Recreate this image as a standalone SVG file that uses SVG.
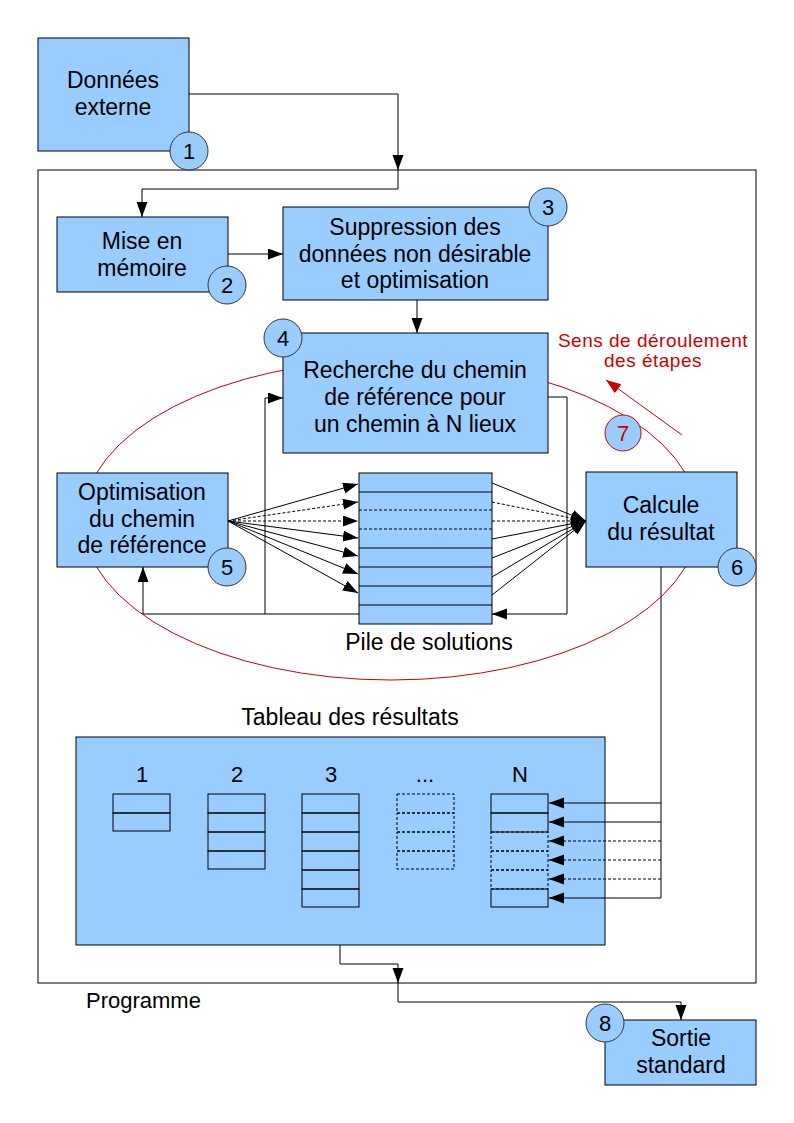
<svg xmlns="http://www.w3.org/2000/svg" width="794" height="1123" viewBox="0 0 794 1123">
<style>
  text { font-family: "Liberation Sans", Arial, sans-serif; fill: #000; }
  .lbl { font-size: 23px; text-anchor: middle; }
  .num { font-size: 22px; text-anchor: middle; }
  .box { fill: #99ccff; stroke: #000; stroke-width: 1; }
  .badge { fill: #99ccff; stroke: #333; stroke-width: 1; }
  .cell { fill: none; stroke: #000; stroke-width: 1; }
  .dcell { fill: none; stroke: #000; stroke-width: 1; stroke-dasharray: 3,2; }
  .ln { fill: none; stroke: #000; stroke-width: 1; }
  .dash { fill: none; stroke: #000; stroke-width: 1; stroke-dasharray: 3,2; }
  .arr { marker-end: url(#ah); }
</style>
<defs>
  <marker id="ah" markerUnits="userSpaceOnUse" markerWidth="16" markerHeight="12" refX="15" refY="5.5" orient="auto">
    <path d="M0,0 L15,5.5 L0,11 z" fill="#000"/>
  </marker>
  <marker id="ahr" markerUnits="userSpaceOnUse" markerWidth="16" markerHeight="12" refX="15" refY="5.5" orient="auto">
    <path d="M0,0 L15,5.5 L0,11 z" fill="#cc0000"/>
  </marker>
</defs>
<rect x="0" y="0" width="794" height="1123" fill="#fff"/>

<g id="programme">
  <rect x="38" y="170" width="718" height="813" fill="none" stroke="#000" stroke-width="1"/>
  <text x="86" y="1008" style="font-size:22px">Programme</text>
</g>

<g id="cycle">
  <ellipse cx="391" cy="520" rx="308" ry="160" fill="none" stroke="#cc0000" stroke-width="1"/>
  <line x1="682" y1="435" x2="606" y2="380" stroke="#cc0000" stroke-width="1" marker-end="url(#ahr)"/>
  <text x="653" y="347" style="font-size:19px;text-anchor:middle;letter-spacing:0.5px;fill:#cc0000">Sens de déroulement</text>
  <text x="653" y="367" style="font-size:19px;text-anchor:middle;letter-spacing:0.5px;fill:#cc0000">des étapes</text>
  <circle cx="623" cy="433" r="18" fill="#99ccff" stroke="#cc0000" stroke-width="1"/>
  <text x="623" y="441" style="font-size:22px;text-anchor:middle;fill:#cc0000">7</text>
</g>

<g id="n1">
  <rect class="box" x="38" y="38" width="151" height="113"/>
  <text class="lbl" x="113" y="88">Données</text>
  <text class="lbl" x="113" y="115">externe</text>
  <circle class="badge" cx="189" cy="151" r="19"/>
  <text class="num" x="189" y="159">1</text>
</g>

<g id="n2">
  <rect class="box" x="57" y="217" width="171" height="75"/>
  <text class="lbl" x="142" y="249">Mise en</text>
  <text class="lbl" x="142" y="276">mémoire</text>
  <circle class="badge" cx="227" cy="285" r="19"/>
  <text class="num" x="227" y="293">2</text>
</g>

<g id="n3">
  <rect class="box" x="283" y="207" width="265" height="93"/>
  <text class="lbl" x="415" y="235">Suppression des</text>
  <text class="lbl" x="415" y="262">données non désirable</text>
  <text class="lbl" x="415" y="288">et optimisation</text>
  <circle class="badge" cx="548" cy="207" r="19"/>
  <text class="num" x="548" y="215">3</text>
</g>

<g id="n4">
  <rect class="box" x="283" y="333" width="265" height="120"/>
  <text class="lbl" x="415" y="378">Recherche du chemin</text>
  <text class="lbl" x="415" y="405">de référence pour</text>
  <text class="lbl" x="415" y="432">un chemin à N lieux</text>
  <circle class="badge" cx="283" cy="338" r="19"/>
  <text class="num" x="283" y="346">4</text>
</g>

<g id="n5">
  <rect class="box" x="57" y="473" width="171" height="94"/>
  <text class="lbl" x="142" y="500">Optimisation</text>
  <text class="lbl" x="142" y="527">du chemin</text>
  <text class="lbl" x="142" y="553">de référence</text>
  <circle class="badge" cx="227" cy="567" r="19"/>
  <text class="num" x="227" y="575">5</text>
</g>

<g id="pile">
  <rect class="box" x="359" y="473" width="133" height="151"/>
  <line class="cell" x1="359" y1="492" x2="492" y2="492"/>
  <line class="dcell" x1="359" y1="510" x2="492" y2="510"/>
  <line class="dcell" x1="359" y1="529" x2="492" y2="529"/>
  <line class="cell" x1="359" y1="548" x2="492" y2="548"/>
  <line class="cell" x1="359" y1="567" x2="492" y2="567"/>
  <line class="cell" x1="359" y1="586" x2="492" y2="586"/>
  <line class="cell" x1="359" y1="605" x2="492" y2="605"/>
  <text class="lbl" x="429" y="650">Pile de solutions</text>
</g>

<g id="n6">
  <rect class="box" x="586" y="472" width="151" height="95"/>
  <text class="lbl" x="661" y="513">Calcule</text>
  <text class="lbl" x="661" y="540">du résultat</text>
  <circle class="badge" cx="737" cy="567" r="19"/>
  <text class="num" x="737" y="575">6</text>
</g>

<g id="tableau">
  <text class="lbl" x="350" y="725">Tableau des résultats</text>
  <rect class="box" x="76" y="737" width="529" height="208"/>
  <text class="num" x="142" y="782">1</text>
  <text class="num" x="237" y="782">2</text>
  <text class="num" x="331" y="782">3</text>
  <text class="num" x="425" y="782">...</text>
  <text class="num" x="520" y="782">N</text>
  <g id="col1">
    <rect class="cell" x="113" y="794" width="57" height="19"/>
    <rect class="cell" x="113" y="813" width="57" height="18"/>
  </g>
  <g id="col2">
    <rect class="cell" x="208" y="794" width="57" height="19"/>
    <rect class="cell" x="208" y="813" width="57" height="19"/>
    <rect class="cell" x="208" y="832" width="57" height="19"/>
    <rect class="cell" x="208" y="851" width="57" height="18"/>
  </g>
  <g id="col3">
    <rect class="cell" x="302" y="794" width="57" height="19"/>
    <rect class="cell" x="302" y="813" width="57" height="19"/>
    <rect class="cell" x="302" y="832" width="57" height="19"/>
    <rect class="cell" x="302" y="851" width="57" height="19"/>
    <rect class="cell" x="302" y="870" width="57" height="19"/>
    <rect class="cell" x="302" y="889" width="57" height="18"/>
  </g>
  <g id="colDots">
    <rect class="dcell" x="397" y="794" width="57" height="19"/>
    <rect class="dcell" x="397" y="813" width="57" height="19"/>
    <rect class="dcell" x="397" y="832" width="57" height="19"/>
    <rect class="dcell" x="397" y="851" width="57" height="18"/>
  </g>
  <g id="colN">
    <rect class="dcell" x="491" y="832" width="57" height="19"/>
    <rect class="dcell" x="491" y="851" width="57" height="19"/>
    <rect class="dcell" x="491" y="870" width="57" height="19"/>
    <rect class="cell" x="491" y="794" width="57" height="19"/>
    <rect class="cell" x="491" y="813" width="57" height="19"/>
    <rect class="cell" x="491" y="889" width="57" height="18"/>
  </g>
</g>

<g id="n8">
  <rect class="box" x="605" y="1020" width="151" height="65"/>
  <text class="lbl" x="681" y="1046">Sortie</text>
  <text class="lbl" x="681" y="1073">standard</text>
  <circle class="badge" cx="605" cy="1023" r="19"/>
  <text class="num" x="605" y="1031">8</text>
</g>

<g id="connectors">
  <path class="ln arr" d="M189,94 H398 V170"/>
  <path class="ln arr" d="M398,170 V189 H142 V217"/>
  <path class="ln arr" d="M228,254 H283"/>
  <path class="ln arr" d="M417,300 V333"/>
  <path class="ln arr" d="M548,397 H567 V614 H492"/>
  <path class="ln arr" d="M359,614 H143 V567"/>
  <path class="ln arr" d="M265,614 V398 H283"/>
  <line class="ln arr" x1="228" y1="521" x2="358" y2="484"/>
  <line class="dash arr" x1="228" y1="521" x2="358" y2="502"/>
  <line class="dash arr" x1="228" y1="521" x2="358" y2="521"/>
  <line class="ln arr" x1="228" y1="521" x2="358" y2="538"/>
  <line class="ln arr" x1="228" y1="521" x2="358" y2="556"/>
  <line class="ln arr" x1="228" y1="521" x2="358" y2="574"/>
  <line class="ln arr" x1="228" y1="521" x2="358" y2="593"/>
  <line class="ln arr" x1="492" y1="483" x2="586" y2="521"/>
  <line class="dash arr" x1="492" y1="502" x2="586" y2="521"/>
  <line class="dash arr" x1="492" y1="521" x2="586" y2="521"/>
  <line class="ln arr" x1="492" y1="539" x2="586" y2="521"/>
  <line class="ln arr" x1="492" y1="558" x2="586" y2="521"/>
  <line class="ln arr" x1="492" y1="577" x2="586" y2="521"/>
  <line class="ln arr" x1="492" y1="595" x2="586" y2="521"/>
  <path class="ln" d="M661,567 V898"/>
  <line class="ln arr" x1="661" y1="803" x2="549" y2="803"/>
  <line class="ln arr" x1="661" y1="822" x2="549" y2="822"/>
  <line class="dash arr" x1="661" y1="841" x2="549" y2="841"/>
  <line class="dash arr" x1="661" y1="860" x2="549" y2="860"/>
  <line class="dash arr" x1="661" y1="879" x2="549" y2="879"/>
  <line class="ln arr" x1="661" y1="898" x2="549" y2="898"/>
  <path class="ln arr" d="M340,945 V964 H398 V983"/>
  <path class="ln arr" d="M398,983 V1002 H681 V1020"/>
</g>
</svg>
